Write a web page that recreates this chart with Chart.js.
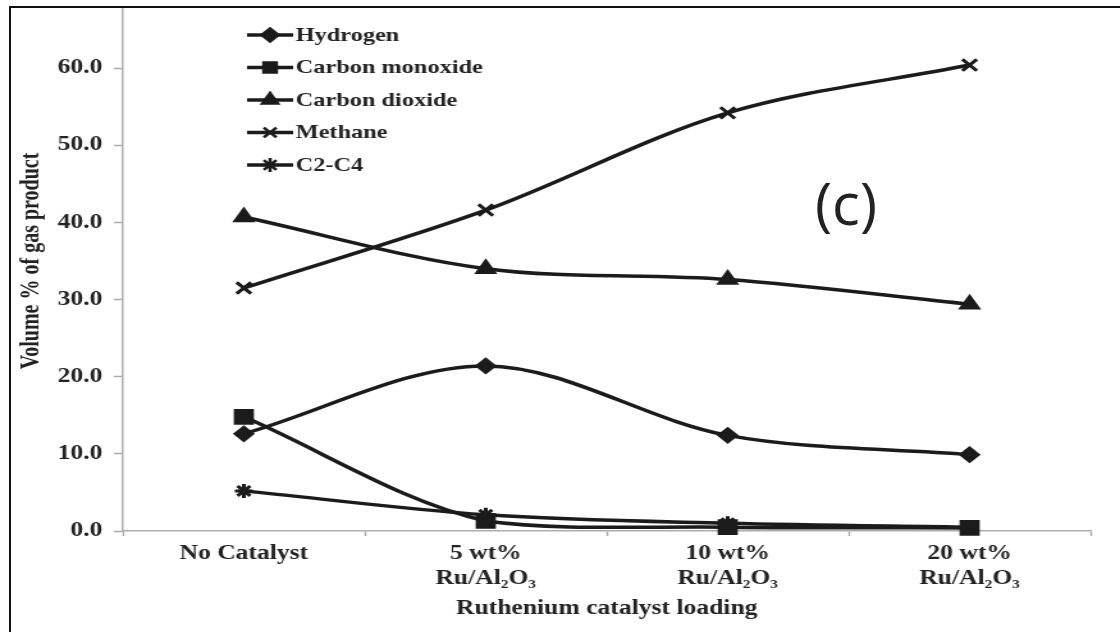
<!DOCTYPE html>
<html lang="en">
<head>
  <meta charset="UTF-8">
  <title>Gas product vs ruthenium catalyst loading</title>
  <script src="https://cdn.jsdelivr.net/npm/chart.js"></script>
  <style>
    html, body {
      margin: 0;
      padding: 0;
      background: #fff;
    }

    body {
      width: 1120px;
      height: 632px;
      position: relative;
      overflow: hidden;
    }

    /* the figure is cropped at the top: the y axis runs to 70 above the frame */
    #clip {
      position: absolute;
      left: 0;
      top: 8px;
      width: 1120px;
      height: 624px;
      overflow: hidden;
    }

    #chart {
      position: absolute;
      left: 0;
      top: -38px;
    }

    #frame {
      position: absolute;
      left: 9px;
      top: 6px;
      width: 1200px;
      height: 700px;
      border-top: 2px solid #111;
      border-left: 2px solid #111;
      pointer-events: none;
    }

    #tag {
      position: absolute;
      left: 846px;
      top: 203px;
      transform: translate(-50%, -50%);
      font: 58px 'Open Sans', sans-serif;
      line-height: 1;
      color: #222;
    }
  </style>
</head>
<body>

  <div id="clip">
    <!-- drawn at 875px wide then stretched to 1120px, like the source figure -->
    <canvas id="chart" width="875" height="662" style="width:1120px;height:662px"></canvas>
  </div>
  <div id="frame"></div>
  <div id="tag">(c)</div>

  <script>
    const categories = [['No Catalyst'], ['5 wt%', 'Ru/Al₂O₃'], ['10 wt%', 'Ru/Al₂O₃'], ['20 wt%', 'Ru/Al₂O₃']];
    const hydrogen = [12.6, 21.4, 12.4, 9.9];
    const carbonMonoxide = [14.8, 1.3, 0.5, 0.4];
    const carbonDioxide = [40.7, 34.0, 32.6, 29.4];
    const methane = [31.5, 41.6, 54.2, 60.4];
    const c2c4 = [5.2, 2.1, 1.0, 0.5];
    const yTicks = [0, 10, 20, 30, 40, 50, 60];

    const INK = '#1b1b1b';
    const TEXT = '#222';
    const AXIS = '#adadad';
    const SERIF = '"Liberation Serif", "Times New Roman", serif';

    function series(label, data, pointStyle, radius) {
      return {
        label: label,
        data: data,
        pointStyle: pointStyle,
        pointRadius: radius,
        borderColor: INK,
        backgroundColor: INK,
        pointBackgroundColor: INK,
        pointBorderColor: INK,
        borderWidth: 3.5,
        pointBorderWidth: 3,
        tension: 0.33,
        clip: false
      };
    }

    // legend as in the figure: short line with the marker on it
    const lineLegend = {
      id: 'lineLegend',
      afterDatasetsDraw(chart) {
        const ctx = chart.ctx;
        ctx.save();
        ctx.font = 'bold 19px ' + SERIF;
        ctx.textBaseline = 'middle';
        chart.data.datasets.forEach((ds, i) => {
          const y = 65 + i * 32.5;
          ctx.strokeStyle = INK;
          ctx.fillStyle = INK;
          ctx.lineWidth = 3.5;
          ctx.beginPath();
          ctx.moveTo(193, y);
          ctx.lineTo(229, y);
          ctx.stroke();
          ctx.lineWidth = 2.5;
          Chart.helpers.drawPoint(ctx, {
            pointStyle: ds.pointStyle,
            radius: Math.min(ds.pointRadius, 7),
            rotation: 0,
            borderWidth: 2.5
          }, 211, y);
          ctx.fillStyle = TEXT;
          ctx.fillText(ds.label, 231, y + 1);
        });
        ctx.restore();
      }
    };

    new Chart(document.getElementById('chart'), {
      type: 'line',
      data: {
        labels: categories,
        datasets: [
          series('Hydrogen', hydrogen, 'rectRot', 6.5),
          series('Carbon monoxide', carbonMonoxide, 'rect', 9),
          series('Carbon dioxide', carbonDioxide, 'triangle', 7.5),
          series('Methane', methane, 'crossRot', 8),
          series('C2-C4', c2c4, 'star', 7)
        ]
      },
      options: {
        responsive: false,
        devicePixelRatio: 1,
        animation: false,
        layout: { padding: { top: 17, right: 23, bottom: 0, left: 0 } },
        plugins: {
          legend: { display: false },
          tooltip: { enabled: false }
        },
        scales: {
          x: {
            offset: true,
            grid: { offset: true, drawOnChartArea: false, drawTicks: true, tickLength: 5, tickColor: AXIS, tickWidth: 1.5 },
            border: { color: AXIS, width: 1.5 },
            ticks: {
              color: TEXT,
              padding: 5,
              maxRotation: 0,
              autoSkip: false,
              font: { family: SERIF, size: 20, weight: 'bold', lineHeight: 1.25 }
            },
            title: {
              display: true,
              text: 'Ruthenium catalyst loading',
              color: TEXT,
              padding: { top: 0, bottom: 11 },
              font: { family: SERIF, size: 20, weight: 'bold' }
            },
            afterFit(scale) { scale.height = 101; }
          },
          y: {
            min: 0,
            max: 70,
            grid: { drawOnChartArea: false, drawTicks: true, tickLength: 7, tickColor: AXIS, tickWidth: 1.5 },
            border: { color: AXIS, width: 1.5 },
            ticks: {
              stepSize: 10,
              padding: 9,
              color: TEXT,
              font: { family: SERIF, size: 20, weight: 'bold' },
              callback: v => yTicks.includes(v) ? v.toFixed(1) : ''
            },
            title: {
              display: true,
              text: 'Volume % of gas product',
              color: TEXT,
              padding: { top: 13, bottom: 0 },
              font: { family: SERIF, size: 20, weight: 'bold' }
            },
            afterFit(scale) { scale.width = 96; }
          }
        }
      },
      plugins: [lineLegend]
    });
  </script>
</body>
</html>
